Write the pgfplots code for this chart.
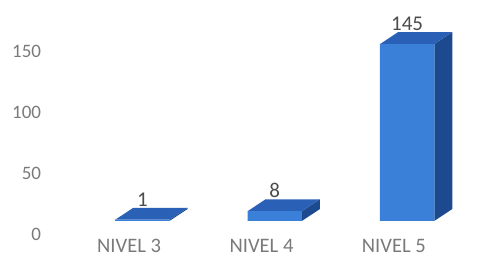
\documentclass[border=0pt]{standalone}
\usepackage{pgfplots}
\pgfplotsset{compat=1.18}
\usepackage{fontspec}
\setmainfont{Carlito}
\definecolor{frontc}{HTML}{3A80D8}
\definecolor{topc}{HTML}{2A60B5}
\definecolor{sidec}{HTML}{1D4A8E}
\definecolor{lblc}{HTML}{7A7A7A}
\begin{document}
\begin{tikzpicture}
\begin{axis}[
  scale only axis,
  width=250pt, height=135.5pt,
  xmin=-0.974, xmax=2.8,
  ymin=-41, ymax=181,
  axis line style={draw=none},
  major tick length=0pt,
  xtick={0,1,2},
  xticklabels={NIVEL 3, NIVEL 4, NIVEL 5},
  ytick={0,50,100,150},
  /pgf/number format/assume math mode=true,
  xticklabel style={font=\fontsize{10.3}{12}\selectfont, text=lblc, yshift=19.5pt},
  yticklabel style={font=\fontsize{9.5}{11}\selectfont, text=lblc, anchor=east, xshift=24pt, yshift=-6.5pt},
  clip=false,
]
% side faces
\addplot[fill=sidec, draw=none] coordinates {(0.305,0) (0.441,9.8) (0.441,10.8) (0.305,1)} -- cycle;
\addplot[fill=sidec, draw=none] coordinates {(1.305,0) (1.441,9.8) (1.441,17.8) (1.305,8)} -- cycle;
\addplot[fill=sidec, draw=none] coordinates {(2.305,0) (2.441,9.8) (2.441,154.8) (2.305,145)} -- cycle;
% top faces
\addplot[fill=topc, draw=none] coordinates {(-0.105,1) (0.305,1) (0.441,10.8) (0.031,10.8)} -- cycle;
\addplot[fill=topc, draw=none] coordinates {(0.895,8) (1.305,8) (1.441,17.8) (1.031,17.8)} -- cycle;
\addplot[fill=topc, draw=none] coordinates {(1.895,145) (2.305,145) (2.441,154.8) (2.031,154.8)} -- cycle;
% front faces
\addplot[ybar, bar width=27.2pt, fill=frontc, draw=none] coordinates {(0.1,1) (1.1,8) (2.1,145)};
% value labels
\addplot[only marks, mark=none, nodes near coords, point meta=explicit symbolic,
  every node near coord/.append style={font=\fontsize{10.5}{12}\selectfont, text=black!70, anchor=south, inner sep=0.5pt}]
  coordinates {(0.1,10.8)[1] (1.1,17.8)[8] (2.1,154.8)[145]};
\end{axis}
\end{tikzpicture}
\end{document}
